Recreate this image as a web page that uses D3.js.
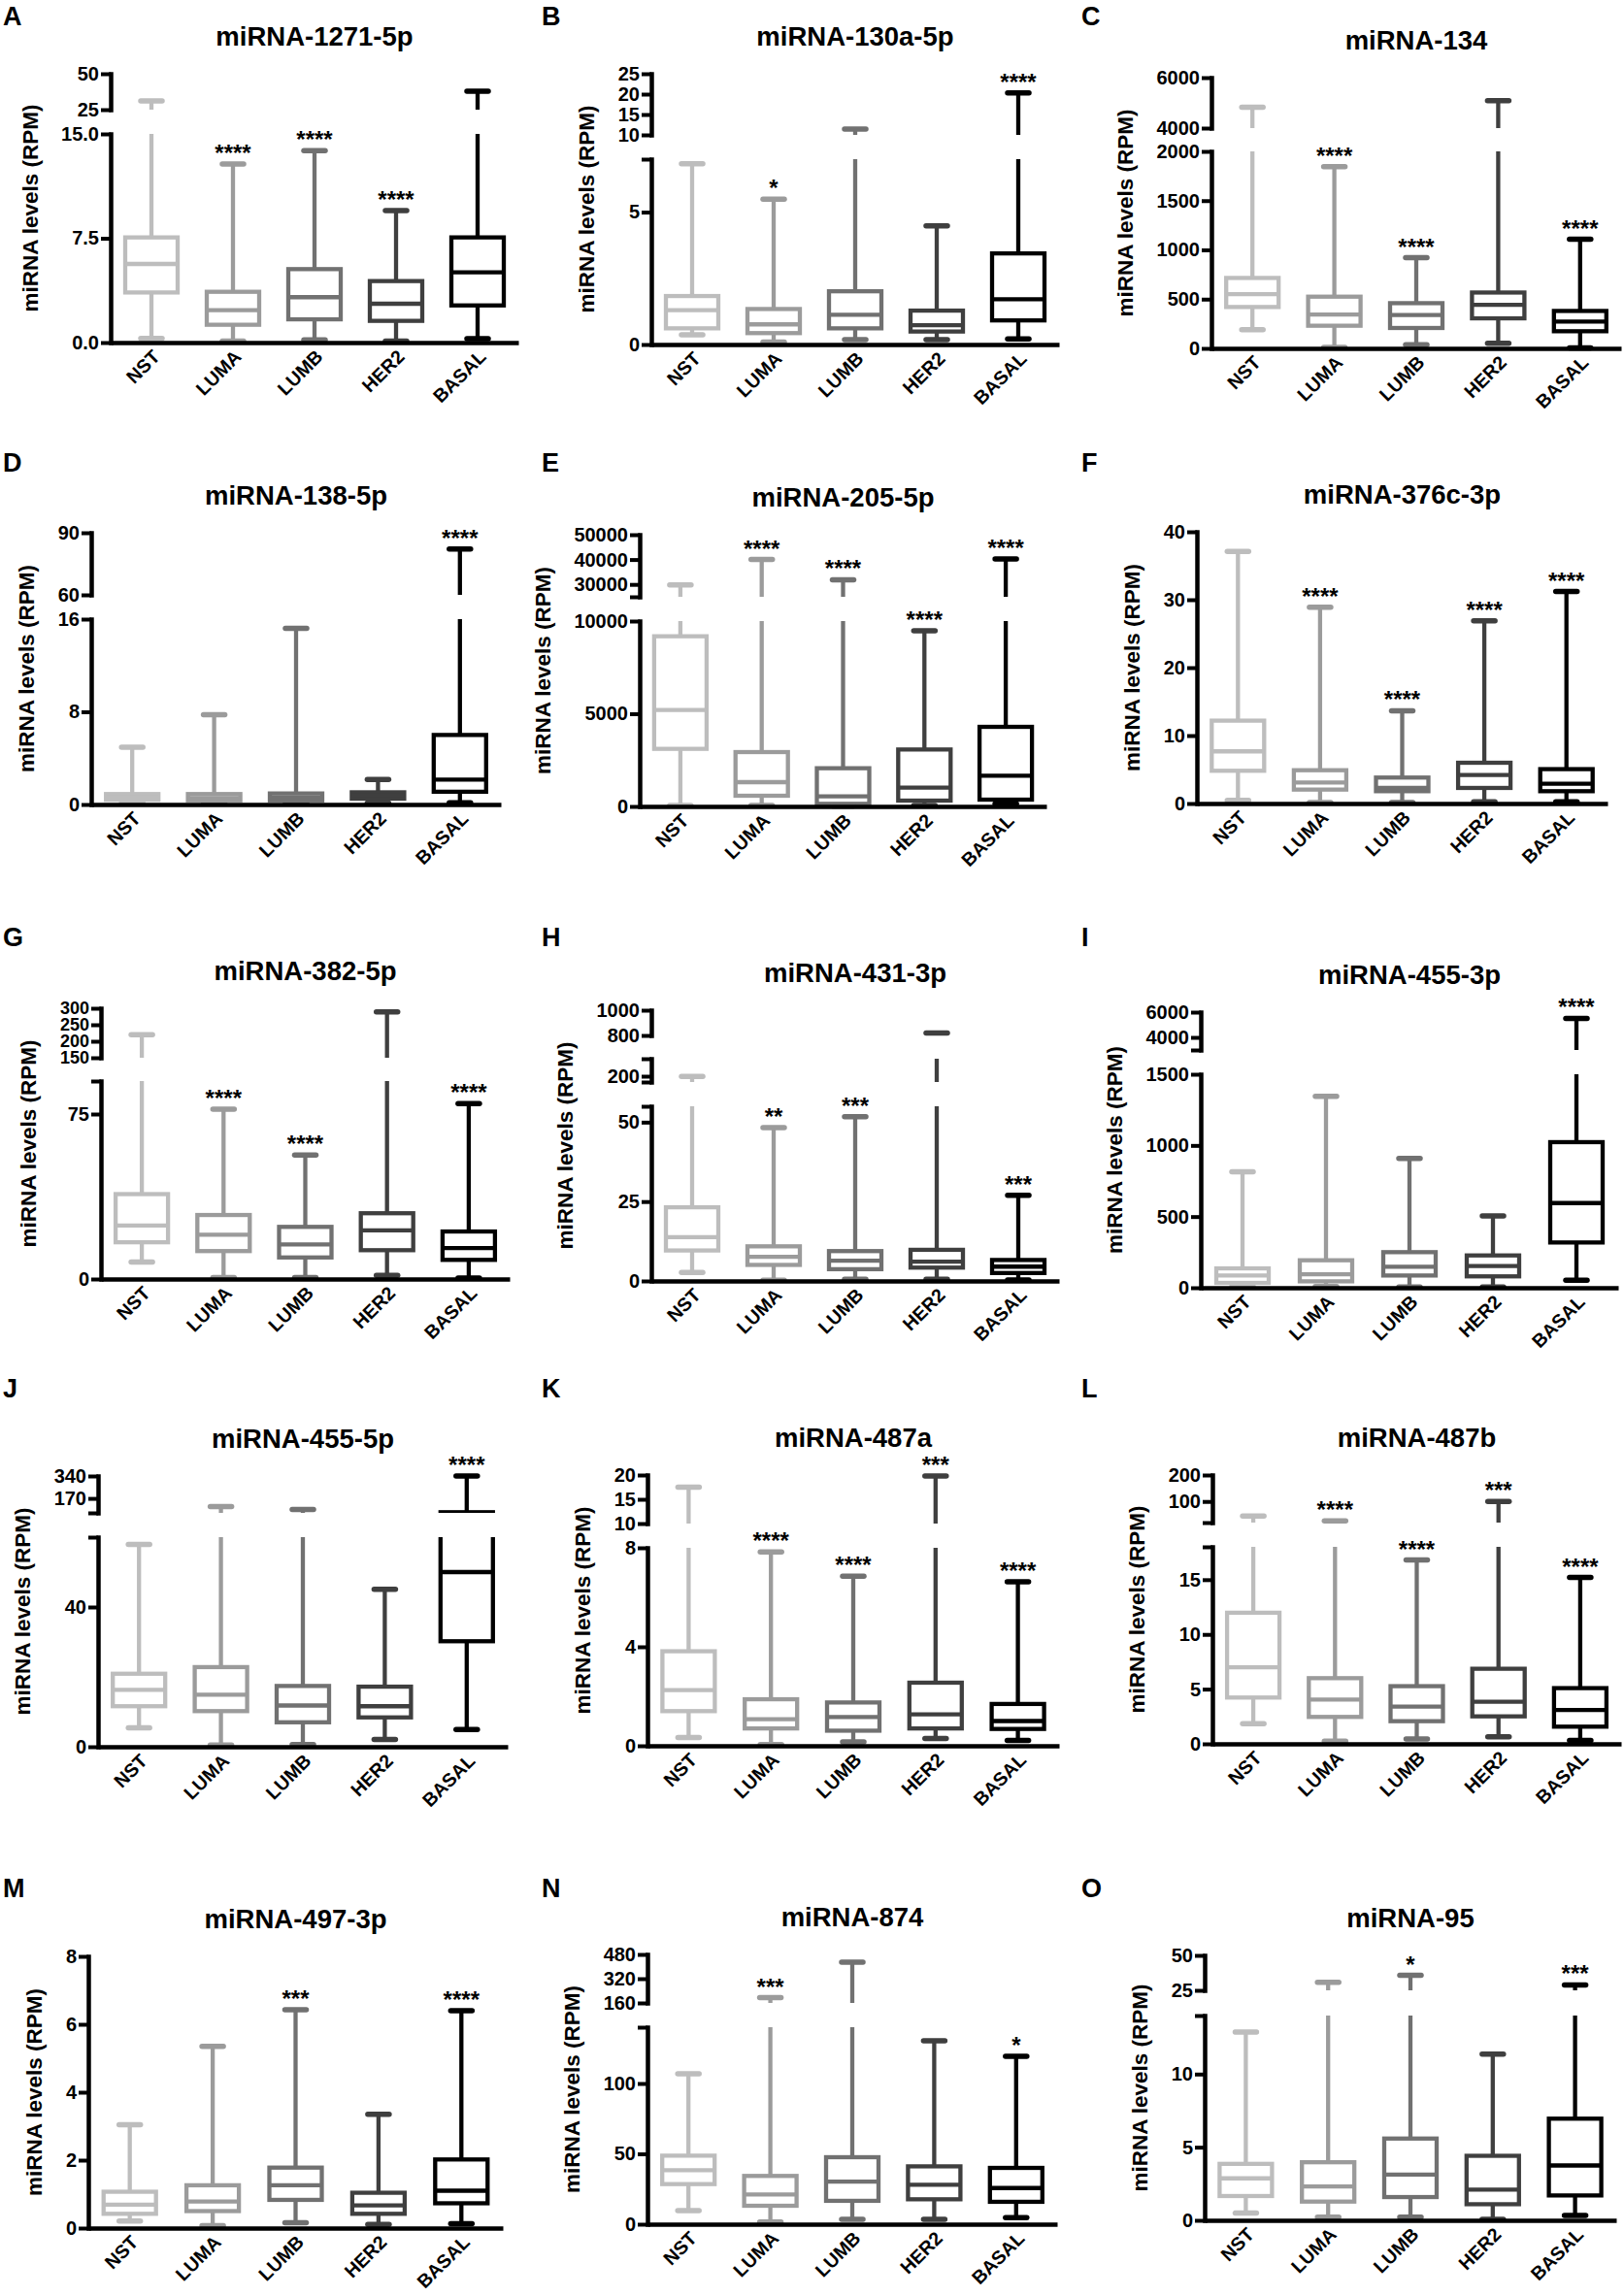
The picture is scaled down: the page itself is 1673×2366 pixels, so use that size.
<!DOCTYPE html>
<html><head><meta charset="utf-8">
<script src="https://cdn.jsdelivr.net/npm/d3@7"></script>
<style>
body{margin:0;background:#fff}
svg{display:block}
text{font-family:"Liberation Sans",Arial,Helvetica,sans-serif;font-weight:bold;fill:#000}
</style>
</head><body>
<svg id="chart" width="1673" height="2366"></svg>
<script>
// ---------------- DATA ----------------
const categories = ["NST","LUMA","LUMB","HER2","BASAL"];
const letters = ["A","B","C","D","E","F","G","H","I","J","K","L","M","N","O"];
const titles = ["miRNA-1271-5p","miRNA-130a-5p","miRNA-134","miRNA-138-5p","miRNA-205-5p","miRNA-376c-3p",
  "miRNA-382-5p","miRNA-431-3p","miRNA-455-3p","miRNA-455-5p","miRNA-487a","miRNA-487b",
  "miRNA-497-3p","miRNA-874","miRNA-95"];
const yTitle = "miRNA levels (RPM)";

// box stats per category: [min, Q1, median, Q3, max]
const statsA = [[0.3,3.6,5.65,7.56,31],[0.1,1.28,2.33,3.65,12.84],[0.2,1.67,3.26,5.28,13.8],[0.1,1.56,2.79,4.42,9.49],[0.28,2.67,5.05,7.56,37.8]];
const statsB = [[0.37,0.61,1.30,1.83,6.83],[0.09,0.43,0.76,1.34,5.49],[0.18,0.61,1.12,2.01,11.4],[0.18,0.49,0.73,1.28,4.48],[0.21,0.91,1.71,3.44,20.3]];
const statsC = [[190,420,551,715,4828],[10,230,344,525,1846],[36,207,338,459,921],[52,305,443,567,5083],[5,174,272,380,1108]];
const statsD = [[0.14,0.4,0.6,0.9,4.95],[0.1,0.35,0.55,0.9,7.75],[0.1,0.35,0.6,0.95,15.2],[0.12,0.5,0.8,1.05,2.15],[0.14,1.1,2.15,6.0,82.2]];
const statsE = [[50,3106,5200,9180,29800],[50,576,1309,2932,40000],[30,140,541,2060,31870],[50,314,1012,3071,9475],[140,366,1658,4293,40260]];
const statsF = [[0.48,4.82,7.68,12.2,37.1],[0.14,2.05,3.1,4.9,28.9],[0.14,1.81,2.29,3.82,13.65],[0.24,2.29,4.2,6.0,26.9],[0.24,1.81,2.91,5.06,31.2]];
const statsG = [[7.7,16.7,24.3,38.6,219.6],[0.7,12.7,20.1,29.1,77.2],[0.7,9.8,15.7,23.7,56.4],[1.7,13.1,22.1,29.9,289],[0.4,8.7,14.1,21.6,79.7]];
const statsH = [[2.7,9.6,13.8,23.2,198],[0.2,5.05,7.6,10.9,48.3],[0.5,3.7,6.4,9.4,51.7],[0.5,4.2,6.1,9.8,820],[0.3,2.5,4.5,6.6,27]];
const statsI = [[8,34,86,136,814],[8,45,95,193,1345],[5,86,148,250,909],[5,80,152,227,505],[52,318,595,1023,5506]];
const statsJ = [[5.4,11.6,16.3,20.9,57.9],[0.5,10.2,14.9,22.8,107],[0.65,7.0,11.8,17.4,85],[2.1,8.4,11.6,17.2,45.1],[4.9,30.2,50,65,340]];
const statsK = [[0.33,1.4,2.25,3.82,17.5],[0.05,0.7,1.07,1.88,7.83],[0.16,0.61,1.16,1.75,6.85],[0.29,0.7,1.27,2.55,19.8],[0.22,0.68,1.0,1.69,6.63]];
const statsL = [[1.83,4.23,7.0,11.98,44.5],[0.24,2.46,4.05,6.0,26],[0.44,2.07,3.4,5.27,16.8],[0.65,2.51,3.85,6.86,99.6],[0.3,1.57,3.1,5.09,15.2]];
const statsM = [[0.21,0.42,0.69,1.07,3.04],[0.07,0.5,0.78,1.26,5.35],[0.16,0.83,1.26,1.78,6.43],[0.11,0.42,0.67,1.04,3.35],[0.13,0.73,1.1,2.02,6.4]];
const statsN = [[9.7,28.5,38.4,48.7,106.9],[1.6,13.1,21.1,34.3,195],[3.4,16.6,30.3,47.6,429],[3.4,17.7,28,41.1,130.3],[4.6,15.9,25.7,40,119.3]];
const statsO = [[0.49,1.66,2.87,3.86,12.87],[0.22,1.28,2.32,3.97,30.7],[0.22,1.59,3.13,5.59,35.7],[0.07,1.1,2.1,4.41,11.37],[0.33,1.7,3.75,6.95,28.9]];

// significance marks
const sigA = ["","****","****","****",""];
const sigB = ["","*","","","****"];
const sigC = ["","****","****","","****"];
const sigD = ["","","","","****"];
const sigE = ["","****","****","****","****"];
const sigF = ["","****","****","****","****"];
const sigG = ["","****","****","","****"];
const sigH = ["","**","***","","***"];
const sigI = ["","","","","****"];
const sigJ = ["","","","","****"];
const sigK = ["","****","****","***","****"];
const sigL = ["","****","****","***","****"];
const sigM = ["","","***","","****"];
const sigN = ["","***","","","*"];
const sigO = ["","","*","","***"];

// broken y-axis: value domain and tick labels of each segment (bottom to top)
const domA = [[0,15],[25,50]];          const ticksA = [["0.0","7.5","15.0"],["25","50"]];
const domB = [[0,7],[10,25]];           const ticksB = [["0","5"],["10","15","20","25"]];
const domC = [[0,2000],[4000,6000]];    const ticksC = [["0","500","1000","1500","2000"],["4000","6000"]];
const domD = [[0,16],[60,90]];          const ticksD = [["0","8","16"],["60","90"]];
const domE = [[0,10000],[25000,50000]]; const ticksE = [["0","5000","10000"],["30000","40000","50000"]];
const domF = [[0,40]];                  const ticksF = [["0","10","20","30","40"]];
const domG = [[0,90],[150,300]];        const ticksG = [["0","75"],["150","200","250","300"]];
const domH = [[0,55],[150,350],[800,1000]]; const ticksH = [["0","25","50"],["200"],["800","1000"]];
const domI = [[0,1500],[3000,6000]];    const ticksI = [["0","500","1000","1500"],["4000","6000"]];
const domJ = [[0,60],[60,340]];         const ticksJ = [["0","40"],["170","340"]];
const domK = [[0,8],[10,20]];           const ticksK = [["0","4","8"],["10","15","20"]];
const domL = [[0,18],[20,200]];         const ticksL = [["0","5","10","15"],["100","200"]];
const domM = [[0,8]];                   const ticksM = [["0","2","4","6","8"]];
const domN = [[0,140],[160,480]];       const ticksN = [["0","50","100"],["160","320","480"]];
const domO = [[0,14],[25,50]];          const ticksO = [["0","5","10"],["25","50"]];

// ---------------- LAYOUT ----------------
const colors = ["#bdbdbd","#9b9b9b","#717171","#3f3f3f","#000000"];
// [axis x, axis end x, baseline y]
const frames = [[114,534,353],[671,1091,355],[1248,1670,359],
                [94,516,829],[659,1078,831],[1233,1656,828],
                [104,525,1318],[671,1091,1320],[1237,1667,1327],
                [101,523,1800],[667,1091,1799],[1249,1670,1797],
                [91,518,2296],[667,1089,2292],[1241,1665,2288]];
// pixel extent of each axis segment above the baseline
const segPx = [[[0,215],[240,277]],[[0,191],[216,279]],[[0,203],[227,279]],
               [[0,191],[216,280]],[[0,191],[216,280]],[[0,280]],
               [[0,204],[228,279]],[[0,180],[205,229],[253,279]],[[0,220],[245,284]],
               [[0,216],[241,279]],[[0,204],[229,279]],[[0,203],[228,277]],
               [[0,280]],[[0,203],[228,278]],[[0,211],[237,273]]];
const letterX = [3,558,1114];
const letterY = [16,476,965,1430,1945];

const stats = [statsA,statsB,statsC,statsD,statsE,statsF,statsG,statsH,statsI,statsJ,statsK,statsL,statsM,statsN,statsO];
const sigs = [sigA,sigB,sigC,sigD,sigE,sigF,sigG,sigH,sigI,sigJ,sigK,sigL,sigM,sigN,sigO];
const doms = [domA,domB,domC,domD,domE,domF,domG,domH,domI,domJ,domK,domL,domM,domN,domO];
const ticks = [ticksA,ticksB,ticksC,ticksD,ticksE,ticksF,ticksG,ticksH,ticksI,ticksJ,ticksK,ticksL,ticksM,ticksN,ticksO];

const svg = d3.select("#chart");
const defs = svg.append("defs");

const FS_TICK = 20, FS_X = 19.5, FS_TITLE = 27.5, FS_YT = 22.5, FS_STAR = 24, FS_LET = 27;

letters.forEach((letter, i) => {
  const [ax, ex, base] = frames[i];
  const col = i % 3, row = Math.floor(i / 3);
  const g = svg.append("g");

  const x = d3.scaleBand().domain(categories).range([ax, ex]);
  const bw = 54, capHalf = 11;

  const segs = doms[i].map((d, k) => ({
    domain: d,
    labels: ticks[i][k],
    y: d3.scaleLinear().domain(d).range([base - segPx[i][k][0], base - segPx[i][k][1]])
  }));
  const topY = base - segPx[i][segPx[i].length - 1][1];

  // panel letter and title
  svg.append("text").attr("x", letterX[col]).attr("y", letterY[row] + 9.5)
    .attr("font-size", FS_LET).text(letter);
  svg.append("text").attr("x", (ax + ex) / 2).attr("y", topY - 39 + 10)
    .attr("text-anchor", "middle").attr("font-size", FS_TITLE).text(titles[i]);

  // clip paths per segment
  segs.forEach((s, k) => {
    const r = s.y.range();
    const id = `clip-${i}-${k}`;
    defs.append("clipPath").attr("id", id).append("rect")
      .attr("x", ax).attr("width", ex - ax + 4)
      .attr("y", r[1]).attr("height", r[0] - r[1] + (k === 0 ? 4 : 0));
    s.clip = id;
  });

  // boxes (clipped to each segment)
  stats[i].forEach((st, c) => {
    const [mn, q1, md, q3, mx] = st;
    const cx = x(categories[c]) + x.bandwidth() / 2;
    const col = colors[c];
    segs.forEach(s => {
      const cg = g.append("g").attr("clip-path", `url(#${s.clip})`)
        .attr("stroke", col).attr("fill", "none");
      cg.append("line").attr("x1", cx).attr("x2", cx).attr("y1", s.y(q3)).attr("y2", s.y(mx)).attr("stroke-width", 4.3);
      cg.append("line").attr("x1", cx).attr("x2", cx).attr("y1", s.y(q1)).attr("y2", s.y(mn)).attr("stroke-width", 4.3);
      cg.append("rect").attr("x", cx - bw / 2).attr("width", bw)
        .attr("y", s.y(q3)).attr("height", s.y(q1) - s.y(q3))
        .attr("fill", "#fff").attr("stroke-width", 4.3);
      cg.append("line").attr("x1", cx - bw / 2).attr("x2", cx + bw / 2)
        .attr("y1", s.y(md)).attr("y2", s.y(md)).attr("stroke-width", 4.3);
    });
    // whisker caps
    [mn, mx].forEach((v, j) => {
      const s = segs.find(s => v >= s.domain[0] && v <= s.domain[1]);
      if (!s) return;
      g.append("line").attr("x1", cx - capHalf).attr("x2", cx + capHalf)
        .attr("y1", s.y(v)).attr("y2", s.y(v))
        .attr("stroke", col).attr("stroke-width", 5.5).attr("stroke-linecap", "round");
      if (j === 1 && sigs[i][c]) {
        g.append("text").attr("x", cx).attr("y", s.y(v) - 3)
          .attr("text-anchor", "middle").attr("font-size", FS_STAR).text(sigs[i][c]);
      }
    });
  });

  // y axis segments
  let minLeft = ax;
  segs.forEach(s => {
    const lab = new Map(s.labels.map(t => [+t, t]));
    const tv = Array.from(new Set([s.domain[0], ...s.labels.map(Number), s.domain[1]]));
    const lv = s.labels.map(Number);
    let gap = Infinity;
    for (let k = 1; k < lv.length; k++) gap = Math.min(gap, Math.abs(s.y(lv[k]) - s.y(lv[k - 1])));
    const fs = Math.min(FS_TICK, gap + 1);
    const axis = d3.axisLeft(s.y).tickValues(tv).tickFormat(v => lab.has(v) ? lab.get(v) : "")
      .tickSizeInner(10).tickSizeOuter(0).tickPadding(2);
    const ag = g.append("g").attr("transform", `translate(${ax},0)`).call(axis);
    ag.attr("font-family", null).attr("font-size", null);
    ag.select(".domain").attr("stroke", "#000").attr("stroke-width", 4.5).attr("stroke-linecap", "square");
    ag.selectAll(".tick line").attr("stroke", "#000").attr("stroke-width", 4);
    ag.selectAll(".tick text").attr("font-size", fs).attr("fill", "#000");
    ag.selectAll(".tick text").each(function () {
      const b = this.getBBox();
      if (this.textContent) minLeft = Math.min(minLeft, ax + b.x);
    });
  });

  // x axis
  const xa = d3.axisBottom(x).tickSize(0).tickSizeOuter(0);
  const xg = g.append("g").attr("transform", `translate(0,${base})`).call(xa);
  xg.attr("font-family", null).attr("font-size", null);
  xg.select(".domain").attr("stroke", "#000").attr("stroke-width", 4.5);
  xg.selectAll(".tick text").attr("font-size", FS_X).attr("fill", "#000")
    .attr("text-anchor", "end").attr("x", 0).attr("y", 0).attr("dy", "0.35em")
    .attr("transform", "translate(5,11) rotate(-45)");

  // y title
  g.append("text").attr("transform", `translate(${Math.max(12, minLeft - 32)},${(base + topY) / 2}) rotate(-90)`)
    .attr("text-anchor", "middle").attr("dominant-baseline", "central")
    .attr("font-size", FS_YT).text(yTitle);
});
</script>
</body></html>
